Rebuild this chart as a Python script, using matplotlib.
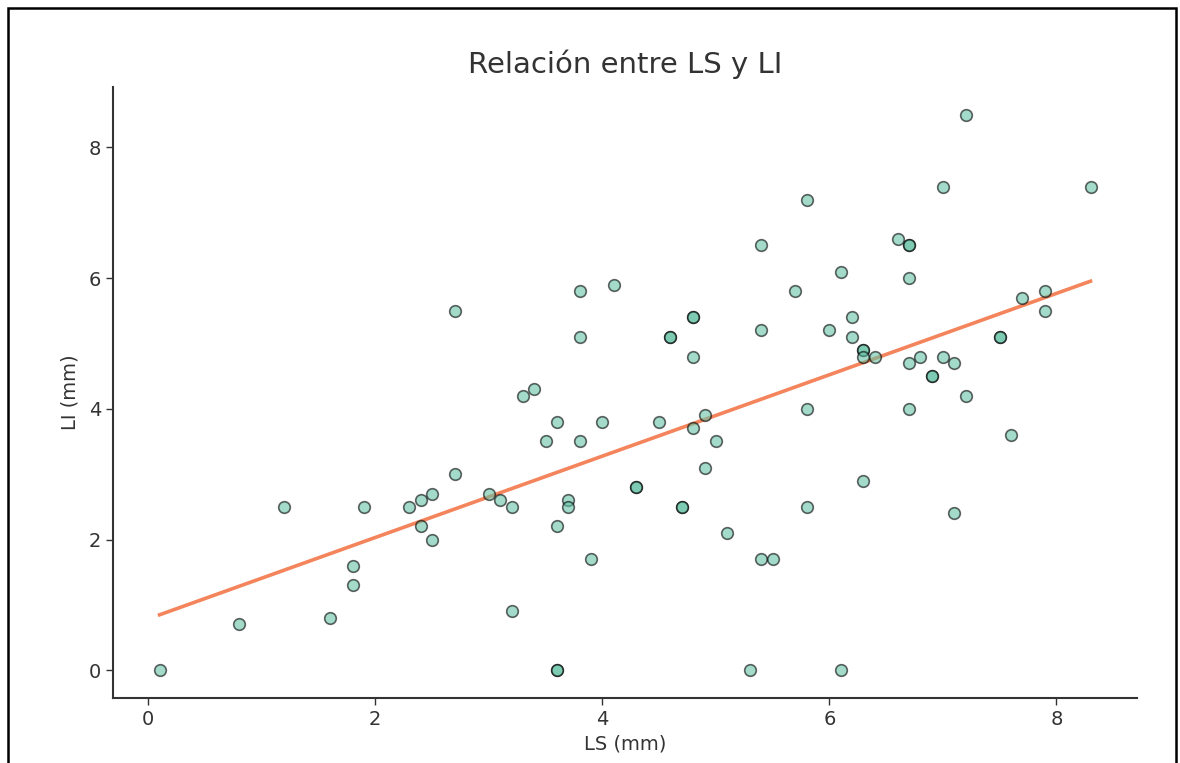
import numpy as np
import matplotlib
matplotlib.use("Agg")
import matplotlib.pyplot as plt
from matplotlib.patches import Rectangle

ls_mm = [0.1, 0.8, 1.2, 1.6, 1.8, 1.8, 1.9, 2.3, 2.4, 2.4, 2.5, 2.5, 2.7, 2.7,
         3.0, 3.1, 3.2, 3.2, 3.3, 3.4, 3.5, 3.6, 3.6, 3.6, 3.6, 3.7, 3.7, 3.8,
         3.8, 3.8, 3.9, 4.0, 4.1, 4.3, 4.3, 4.5, 4.6, 4.6, 4.7, 4.7, 4.8, 4.8,
         4.8, 4.8, 4.9, 4.9, 5.0, 5.1, 5.3, 5.4, 5.4, 5.4, 5.5, 5.7, 5.8, 5.8,
         5.8, 6.0, 6.1, 6.1, 6.2, 6.2, 6.3, 6.3, 6.3, 6.3, 6.4, 6.6, 6.7, 6.7,
         6.7, 6.7, 6.7, 6.8, 6.9, 6.9, 7.0, 7.0, 7.1, 7.1, 7.2, 7.2, 7.5, 7.5,
         7.6, 7.7, 7.9, 7.9, 8.3]
li_mm = [0.0, 0.7, 2.5, 0.8, 1.6, 1.3, 2.5, 2.5, 2.6, 2.2, 2.7, 2.0, 5.5, 3.0,
         2.7, 2.6, 2.5, 0.9, 4.2, 4.3, 3.5, 3.8, 2.2, 0.0, 0.0, 2.6, 2.5, 5.8,
         5.1, 3.5, 1.7, 3.8, 5.9, 2.8, 2.8, 3.8, 5.1, 5.1, 2.5, 2.5, 5.4, 5.4,
         4.8, 3.7, 3.9, 3.1, 3.5, 2.1, 0.0, 6.5, 5.2, 1.7, 1.7, 5.8, 7.2, 4.0,
         2.5, 5.2, 6.1, 0.0, 5.4, 5.1, 4.9, 4.9, 4.8, 2.9, 4.8, 6.6, 6.5, 6.5,
         6.0, 4.7, 4.0, 4.8, 4.5, 4.5, 7.4, 4.8, 4.7, 2.4, 8.5, 4.2, 5.1, 5.1,
         3.6, 5.7, 5.8, 5.5, 7.4]

title = "Relación entre LS y LI"
xlabel = "LS (mm)"
ylabel = "LI (mm)"

x = np.array(ls_mm)
y = np.array(li_mm)

fig = plt.figure(figsize=(11.8, 7.63), dpi=100)
ax = fig.add_axes([0.0958, 0.0852, 0.8678, 0.8008])

ax.scatter(x, y, s=70, facecolor="#66c2a5", edgecolor="black",
           linewidths=1.2, alpha=0.6, zorder=3)

slope, intercept = np.polyfit(x, y, 1)
xs = np.array([x.min(), x.max()])
ax.plot(xs, slope * xs + intercept, color="#f4845b", linewidth=2.6, zorder=2)

ax.set_title(title, fontsize=21, color="#333333", pad=10)
ax.set_xlabel(xlabel, fontsize=14, color="#333333", labelpad=4)
ax.set_ylabel(ylabel, fontsize=14, color="#333333", labelpad=7)
ax.set_xticks([0, 2, 4, 6, 8])
ax.set_yticks([0, 2, 4, 6, 8])
ax.tick_params(labelsize=14, colors="#333333", length=5, width=1)
for s in ["top", "right"]:
    ax.spines[s].set_visible(False)
for s in ["left", "bottom"]:
    ax.spines[s].set_color("#333333")
    ax.spines[s].set_linewidth(1.5)

fig.patches.append(Rectangle((8 / 1180, -0.05), (1176 - 8) / 1180, 1.05 - 8 / 763,
                             transform=fig.transFigure, fill=False,
                             edgecolor="black", linewidth=1.8))

fig.savefig("out.png", dpi=100)
